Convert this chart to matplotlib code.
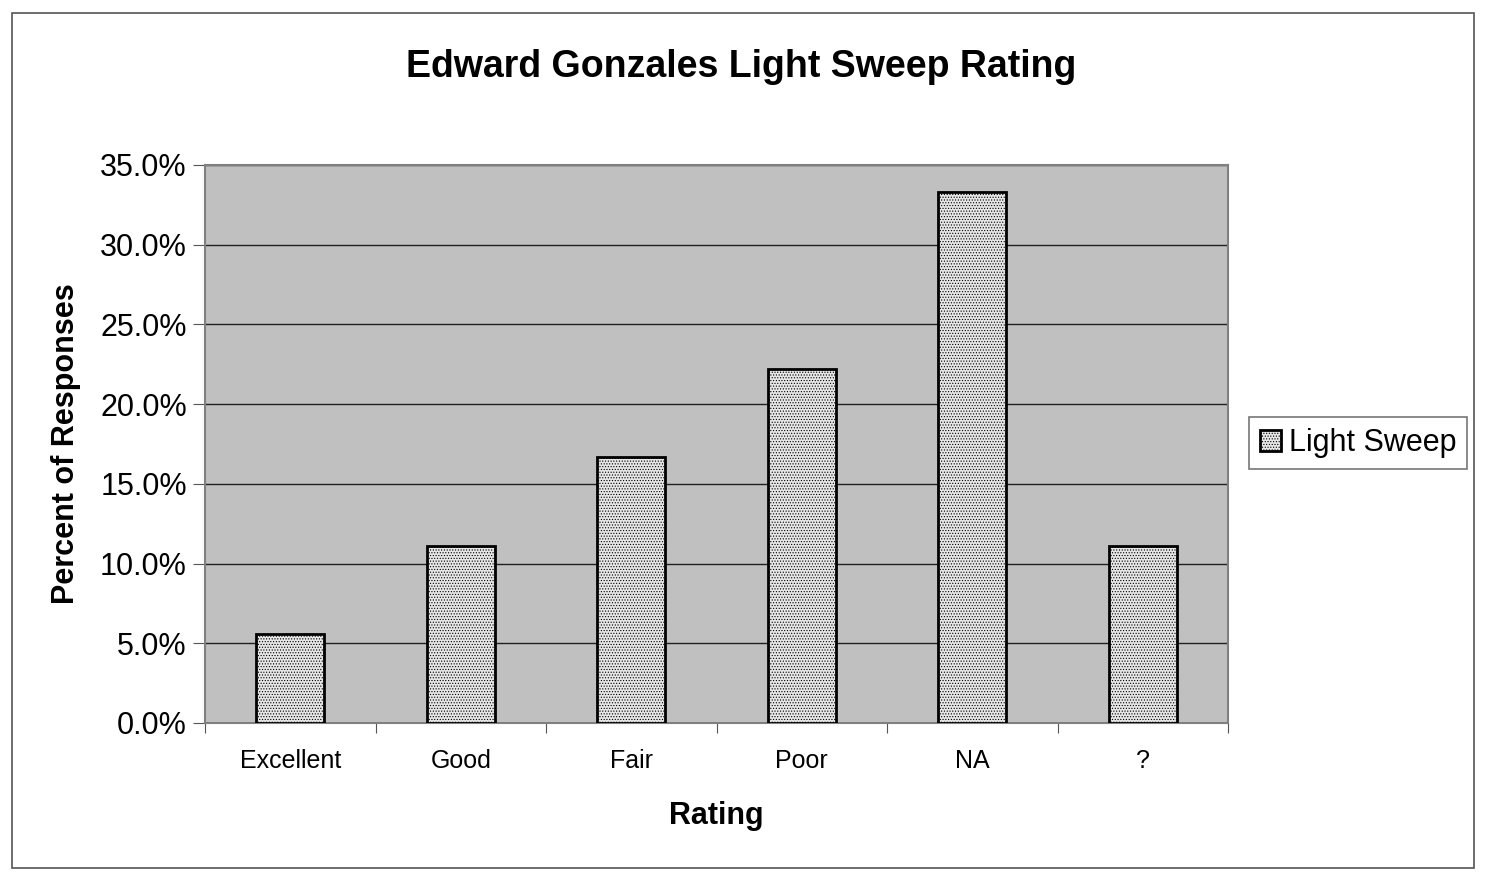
import matplotlib.pyplot as plt
import matplotlib.patches as patches
from matplotlib.ticker import PercentFormatter

plt.rcParams['font.family'] = ['Liberation Sans', 'DejaVu Sans']
plt.rcParams['hatch.color'] = '#a8a8a8'
plt.rcParams['hatch.linewidth'] = 0.5

## chart data
ratings = ['Excellent', 'Good', 'Fair', 'Poor', 'NA', '?']
light_sweep = [5.6, 11.1, 16.7, 22.2, 33.3, 11.1]
y_ticks = [0, 5, 10, 15, 20, 25, 30, 35]

fig = plt.figure(figsize=(14.88, 8.81), dpi=100)

## outer chart border
fig.patches.append(patches.Rectangle((12 / 1488, 13 / 881), 1462 / 1488, 855 / 881,
                                     transform=fig.transFigure, fill=False,
                                     edgecolor='#555555', linewidth=1.2))

ax = fig.add_axes([205 / 1488, 1 - 723 / 881, 1023 / 1488, 558 / 881])
ax.set_facecolor('#c0c0c0')

x = range(len(ratings))
ax.bar(x, light_sweep, width=0.4, facecolor='#e6e6e6', edgecolor='black',
       linewidth=2, hatch='......', label='Light Sweep', zorder=3)

ax.set_xlim(-0.5, len(ratings) - 0.5)
ax.set_ylim(0, 35)
ax.set_yticks(y_ticks)
ax.yaxis.set_major_formatter(PercentFormatter(decimals=1))
ax.grid(axis='y', color='#202020', linewidth=1, zorder=1)

## ticks on category boundaries, labels centred
ax.set_xticks([i - 0.5 for i in range(len(ratings) + 1)])
ax.set_xticklabels([])
ax.set_xticks(list(x), minor=True)
ax.set_xticklabels(ratings, minor=True, fontsize=18)
ax.tick_params(axis='x', which='minor', length=0, pad=19)
ax.tick_params(axis='x', which='major', length=7, color='#555555', direction='out')
ax.tick_params(axis='y', labelsize=22, length=9, color='#555555', pad=4)

for s in ax.spines.values():
    s.set_color('#808080')
    s.set_linewidth(1.5)

ax.set_xlabel('Rating', fontsize=22, fontweight='bold', labelpad=20)
ax.set_ylabel('Percent of Responses', fontsize=22, fontweight='bold', labelpad=14)
fig.text(741 / 1488, 1 - 67 / 881, 'Edward Gonzales Light Sweep Rating',
         ha='center', va='center', fontsize=27, fontweight='bold')

leg = fig.legend(loc='center', bbox_to_anchor=(1358 / 1488, 1 - 443 / 881),
                 fontsize=22, frameon=True, fancybox=False, handlelength=0.7,
                 handleheight=0.7, handletextpad=0.25, borderpad=0.35,
                 borderaxespad=0)
leg.get_frame().set_edgecolor('#555555')
leg.get_frame().set_linewidth(1.2)

plt.savefig('out.png', dpi=100)
plt.close()
